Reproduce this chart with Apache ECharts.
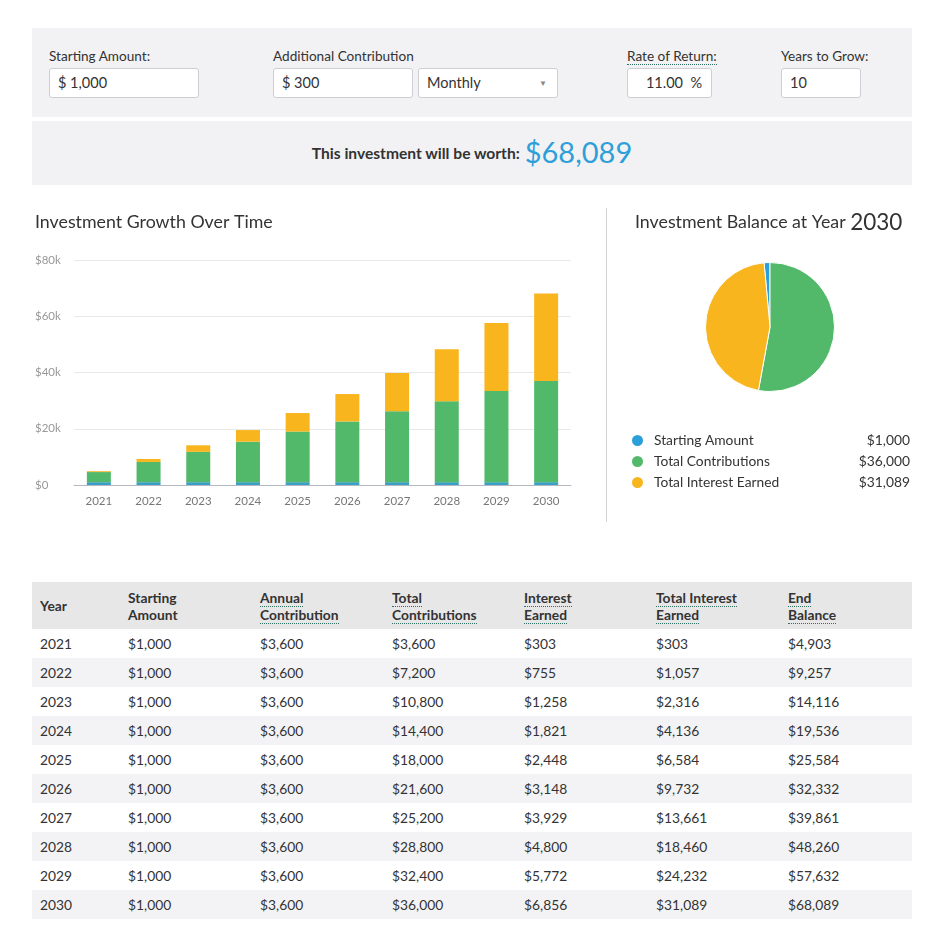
<!DOCTYPE html>
<html>
<head>
<meta charset="utf-8">
<script src="https://cdn.jsdelivr.net/npm/echarts@6/dist/echarts.min.js"></script>
<style>
  html, body { margin:0; padding:0; background:#fff; }
  body { width:944px; height:932px; position:relative; font-family: Lato, "Open Sans", sans-serif; color:#333; overflow:hidden; }
  .abs { position:absolute; }
  .panel { background:#f2f2f4; }
  .lbl { font-size:13.6px; color:#333; line-height:16px; }
  .inp { background:#fff; border:1px solid #cfcfd3; border-radius:3px; box-sizing:border-box; height:30px; font-size:14.5px; line-height:28px; padding:0 8px; color:#333; }
  .dot { border-bottom:1px dotted #2f6f64; }
  table { border-collapse:collapse; font-size:13.8px; }
  th { background:#e7e7e8; text-align:left; font-weight:700; line-height:17px; padding:0 0 0 8px; height:47px; box-sizing:border-box; vertical-align:middle; }
  td { height:29px; padding:0 0 0 8px; line-height:29px; }
  tr.alt td { background:#f3f3f5; }
</style>
</head>
<body>
<div class="abs panel" style="left:32px;top:28px;width:880px;height:89px;"></div>
<div class="abs lbl" style="left:49px;top:48px;">Starting Amount:</div>
<div class="abs inp" style="left:49px;top:68px;width:150px;">$ 1,000</div>
<div class="abs lbl" style="left:273px;top:48px;">Additional Contribution</div>
<div class="abs inp" style="left:273px;top:68px;width:140px;">$ 300</div>
<div class="abs inp" style="left:418px;top:68px;width:140px;">Monthly<span style="position:absolute;right:10px;top:0;font-size:8px;color:#888;">&#9660;</span></div>
<div class="abs lbl" style="left:627px;top:48px;"><span class="dot">Rate of Return:</span></div>
<div class="abs inp" style="left:627px;top:68px;width:85px;text-align:right;padding-right:9px;">11.00 &nbsp;%</div>
<div class="abs lbl" style="left:781px;top:48px;">Years to Grow:</div>
<div class="abs inp" style="left:781px;top:68px;width:80px;">10</div>

<div class="abs panel" style="left:32px;top:121px;width:880px;height:64px;display:flex;align-items:center;justify-content:center;">
  <span style="font-size:15.6px;font-weight:700;margin-top:0px;">This investment will be worth:</span>
  <span id="worth" style="font-size:29px;color:#2e9fd8;margin-left:5px;margin-top:-3px;"></span>
</div>

<div id="bar" class="abs" style="left:0;top:200px;width:600px;height:320px;"></div>
<div class="abs" style="left:606px;top:208px;width:1px;height:314px;background:#d3d3d3;"></div>
<div id="pie" class="abs" style="left:606px;top:200px;width:338px;height:330px;"></div>

<div id="tbl" class="abs" style="left:32px;top:582px;width:880px;"></div>

<script>
const years = ['2021','2022','2023','2024','2025','2026','2027','2028','2029','2030'];
const startingAmount = [1000,1000,1000,1000,1000,1000,1000,1000,1000,1000];
const annualContribution = [3600,3600,3600,3600,3600,3600,3600,3600,3600,3600];
const totalContributions = [3600,7200,10800,14400,18000,21600,25200,28800,32400,36000];
const interestEarned = [303,755,1258,1821,2448,3148,3929,4800,5772,6856];
const totalInterest = [303,1057,2316,4136,6584,9732,13661,18460,24232,31089];
const endBalance = [4903,9257,14116,19536,25584,32332,39861,48260,57632,68089];
const yTicks = [0,20000,40000,60000,80000];
const seriesNames = ['Starting Amount','Total Contributions','Total Interest Earned'];
const colors = ['#2b9fd9','#52b96a','#f8b51d'];

const fmt = v => '$' + v.toLocaleString('en-US');
const last = years.length - 1;
document.getElementById('worth').textContent = fmt(endBalance[last]);

// Bar chart
const bar = echarts.init(document.getElementById('bar'));
bar.setOption({
  animation:false,
  title:{ text:'Investment Growth Over Time', left:35, top:13, padding:0,
    textStyle:{ fontFamily:'Lato', fontSize:17.8, fontWeight:'normal', color:'#333' } },
  grid:{ left:74, right:29, top:60, height:225 },
  xAxis:{ type:'category', data:years,
    axisLine:{ lineStyle:{ color:'#b4b8c0' } }, axisTick:{ show:false },
    axisLabel:{ color:'#777', fontSize:11.5, fontFamily:'Lato', margin:10 } },
  yAxis:{ type:'value', min:yTicks[0], max:yTicks[yTicks.length-1], interval:yTicks[1]-yTicks[0],
    axisLine:{ show:false }, axisTick:{ show:false },
    splitLine:{ lineStyle:{ color:'#e8e8e8' } },
    axisLabel:{ color:'#999', fontSize:11.5, fontFamily:'Lato', align:'left', margin:39,
      formatter: v => v === 0 ? '$0' : '$' + (v/1000) + 'k' } },
  series:[
    { name:seriesNames[0], type:'bar', stack:'t', data:startingAmount, barWidth:24, itemStyle:{ color:'#3a9fc4' } },
    { name:seriesNames[1], type:'bar', stack:'t', data:totalContributions, barWidth:24, itemStyle:{ color:colors[1] } },
    { name:seriesNames[2], type:'bar', stack:'t', data:totalInterest, barWidth:24, itemStyle:{ color:colors[2] } }
  ]
});

// Pie chart
const pieVals = [startingAmount[last], totalContributions[last], totalInterest[last]];
const pieTotal = pieVals.reduce((a,b)=>a+b,0);
const pie = echarts.init(document.getElementById('pie'));
pie.setOption({
  animation:false,
  title:{ text:'Investment Balance at Year {y|' + years[last] + '}', left:29, top:11, padding:0,
    textStyle:{ fontFamily:'Lato', fontSize:17.8, fontWeight:'normal', color:'#333',
      rich:{ y:{ fontFamily:'Lato', fontSize:22.5, color:'#333' } } } },
  legend:{ orient:'vertical', left:24, top:233, padding:0, itemWidth:13, itemHeight:13, itemGap:6,
    icon:'circle', selectedMode:false,
    data:seriesNames,
    formatter: name => '{n|' + name + '}{v|' + fmt(pieVals[seriesNames.indexOf(name)]) + '}',
    textStyle:{ fontFamily:'Lato', fontSize:13.8, color:'#333',
      rich:{ n:{ fontFamily:'Lato', fontSize:13.8, color:'#333', width:170, lineHeight:14, padding:[0,0,0,5] },
             v:{ fontFamily:'Lato', fontSize:13.8, color:'#333', width:86, lineHeight:14, align:'right' } } } },
  series:[{ type:'pie', center:[164,127], radius:64.5, clockwise:true,
    startAngle: 90 + 360*pieVals[0]/pieTotal,
    label:{ show:false }, labelLine:{ show:false },
    itemStyle:{ borderColor:'#fff', borderWidth:1 },
    emphasis:{ disabled:true },
    data: seriesNames.map((n,i)=>({ name:n, value:pieVals[i], itemStyle:{ color:colors[i] } })) }]
});

// Table
const cols = [
  { h:'Year', w:88, d:years, f:v=>v },
  { h:'Starting<br>Amount', w:132, d:startingAmount, f:fmt },
  { h:'<span class="dot">Annual</span><br><span class="dot">Contribution</span>', w:132, d:annualContribution, f:fmt },
  { h:'<span class="dot">Total</span><br><span class="dot">Contributions</span>', w:132, d:totalContributions, f:fmt },
  { h:'<span class="dot">Interest</span><br><span class="dot">Earned</span>', w:132, d:interestEarned, f:fmt },
  { h:'<span class="dot">Total Interest</span><br><span class="dot">Earned</span>', w:132, d:totalInterest, f:fmt },
  { h:'<span class="dot">End</span><br><span class="dot">Balance</span>', w:132, d:endBalance, f:fmt }
];
let html = '<table style="width:880px;table-layout:fixed;"><colgroup>' + cols.map(c=>'<col style="width:'+c.w+'px">').join('') + '</colgroup><tr>';
html += cols.map(c=>'<th>'+c.h+'</th>').join('') + '</tr>';
years.forEach((y,i)=>{
  html += '<tr' + (i%2===1?' class="alt"':'') + '>' + cols.map(c=>'<td>'+c.f(c.d[i])+'</td>').join('') + '</tr>';
});
html += '</table>';
document.getElementById('tbl').innerHTML = html;
</script>
</body>
</html>
